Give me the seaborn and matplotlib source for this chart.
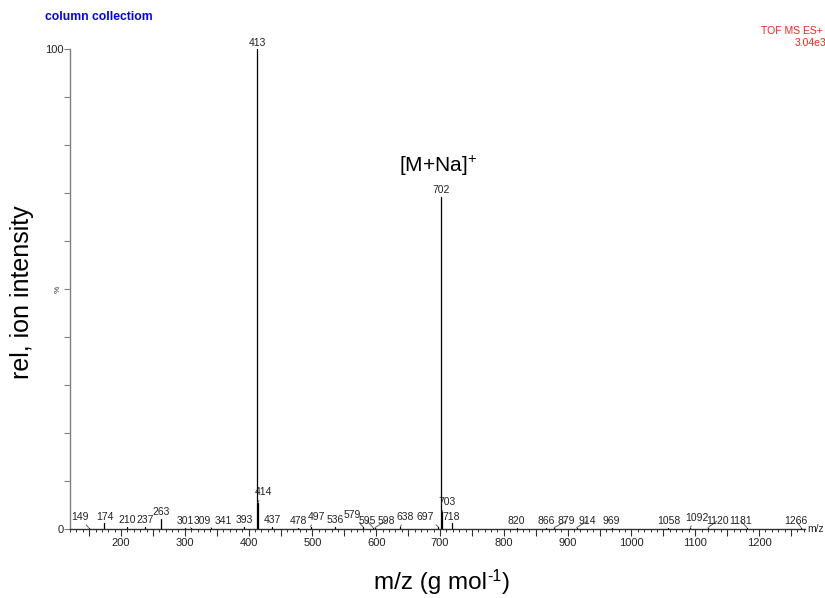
import numpy as np
import pandas as pd
import matplotlib
matplotlib.use("Agg")
import matplotlib.pyplot as plt
from matplotlib.ticker import MultipleLocator, FuncFormatter
import seaborn as sns

# Peak list of the ES+ TOF spectrum (m/z and relative intensity in %)
mz = [149, 174, 210, 237, 263, 301, 309, 341, 393, 413, 414, 437, 478, 497,
      536, 579, 595, 598, 638, 697, 702, 703, 718, 820, 866, 879, 914, 969,
      1058, 1092, 1120, 1181, 1266]
rel = [0.3, 1.2, 0.5, 0.5, 2.1, 0.3, 0.3, 0.3, 0.5, 100.0, 5.4, 0.5, 0.3, 0.5,
       0.5, 0.5, 0.3, 0.3, 0.5, 0.5, 69.2, 3.5, 1.2, 0.3, 0.3, 0.3, 0.3, 0.3,
       0.3, 0.3, 0.3, 0.3, 0.3]
peak_labels = [str(m) for m in mz]

# label placement offsets (pixels) relative to the top of each stick
label_dx = {149: -9, 309: 12, 341: 12, 414: 6, 497: 6, 579: -11, 595: -6,
            598: 11, 638: 5, 697: -13, 703: 5, 879: 12, 914: 11, 1092: 7,
            1120: 9, 1181: -6, 1266: -5}
label_dy = {149: 6, 414: 6, 497: 5, 579: 7, 638: 5, 697: 5, 703: 5, 1092: 5}

W, H = 825, 598
sns.set_theme(style="ticks")
plt.rcParams["font.family"] = ["Liberation Sans", "DejaVu Sans"]

fig = plt.figure(figsize=(W / 100, H / 100), dpi=100)
ax = fig.add_axes([70 / W, 69 / H, 735 / W, 480 / H])

# stick spectrum: one vertical segment per peak
rows = []
for i, (m, r) in enumerate(zip(mz, rel)):
    rows.append({"mz": m, "rel": 0.0, "peak": i})
    rows.append({"mz": m, "rel": r, "peak": i})
df = pd.DataFrame(rows)
sns.lineplot(data=df, x="mz", y="rel", units="peak", estimator=None,
             color="black", lw=0.9, ax=ax, legend=False)

ax.set_xlim(120, 1272)
ax.set_ylim(0, 100)
ax.set_xlabel("")
ax.set_ylabel("")

# peak annotations
for m, r, lab in zip(mz, rel, peak_labels):
    dx = label_dx.get(m, 0)
    dy = label_dy.get(m, 1.5)
    lead = abs(dx) > 3 or dy > 3
    ax.annotate(lab, xy=(m, r), xytext=(dx, dy), textcoords="offset pixels",
                ha="center", va="bottom", fontsize=7.5, color="#222222",
                annotation_clip=False,
                arrowprops=dict(arrowstyle="-", lw=0.6, color="#444444",
                                shrinkA=0, shrinkB=0) if lead else None)

# axes styling
sns.despine(ax=ax)
ax.spines["left"].set_color("#808080")
ax.spines["left"].set_linewidth(1.0)
ax.spines["bottom"].set_color("#303030")
ax.spines["bottom"].set_linewidth(1.0)

ax.xaxis.set_major_locator(MultipleLocator(50))
ax.xaxis.set_minor_locator(MultipleLocator(10))
ax.xaxis.set_major_formatter(FuncFormatter(
    lambda v, p: f"{int(round(v))}" if round(v) % 100 == 0 else ""))
ax.tick_params(axis="x", which="major", length=5, width=0.8, color="#303030",
               labelsize=8, pad=1.5, labelcolor="#222222")
ax.tick_params(axis="x", which="minor", length=2.5, width=0.7, color="#303030")

ax.yaxis.set_major_locator(MultipleLocator(10))
ax.yaxis.set_major_formatter(FuncFormatter(
    lambda v, p: f"{int(round(v))}" if round(v) in (0, 100) else ""))
ax.tick_params(axis="y", which="major", length=4, width=0.8, color="#808080",
               labelsize=8, pad=0.5, labelcolor="#222222")

ax.text(-0.016, 0.5, "%", transform=ax.transAxes, rotation=90,
        ha="center", va="center", fontsize=6, color="#333333")
ax.text(1.003, 0.0, "m/z", transform=ax.transAxes, ha="left", va="center",
        fontsize=7.5, color="#222222")

# adduct assignment above the 702 peak
ax.text(697, 75.8, "[M+Na]$^{\\mathregular{+}}$", ha="center", va="center",
        fontsize=15, color="black")

# axis titles
fig.text(22 / W, 1 - 292 / H, "rel, ion intensity", rotation=90,
         ha="center", va="center", fontsize=18, color="black")

# x title built from pieces so the exponent keeps a plain hyphen
renderer = fig.canvas.get_renderer()
xl_main = fig.text(0, 0, "m/z (g mol", fontsize=17.5, color="black",
                   va="baseline")
xl_sup = fig.text(0, 0, "-1", fontsize=11.5, color="black", va="baseline")
xl_end = fig.text(0, 0, ")", fontsize=17.5, color="black", va="baseline")
w_main = xl_main.get_window_extent(renderer).width
w_sup = xl_sup.get_window_extent(renderer).width
w_end = xl_end.get_window_extent(renderer).width
total = w_main + w_sup + w_end
x0 = 442 - total / 2
base = H - 589
xl_main.set_position((x0 / W, base / H))
xl_sup.set_position(((x0 + w_main) / W, (base + 8) / H))
xl_end.set_position(((x0 + w_main + w_sup) / W, base / H))

# header texts
fig.text(45 / W, 1 - 17 / H, "column collectiom", ha="left", va="center",
         fontsize=8.7, fontweight="bold", color="#0000ff")
fig.text(823 / W, 1 - 31 / H, "TOF MS ES+", ha="right", va="center",
         fontsize=7.5, color="#ff2020")
fig.text(795 / W, 1 - 43 / H, "3.04e3", ha="left", va="center",
         fontsize=7.5, color="#ff2020")

fig.savefig("out.png", dpi=100)
